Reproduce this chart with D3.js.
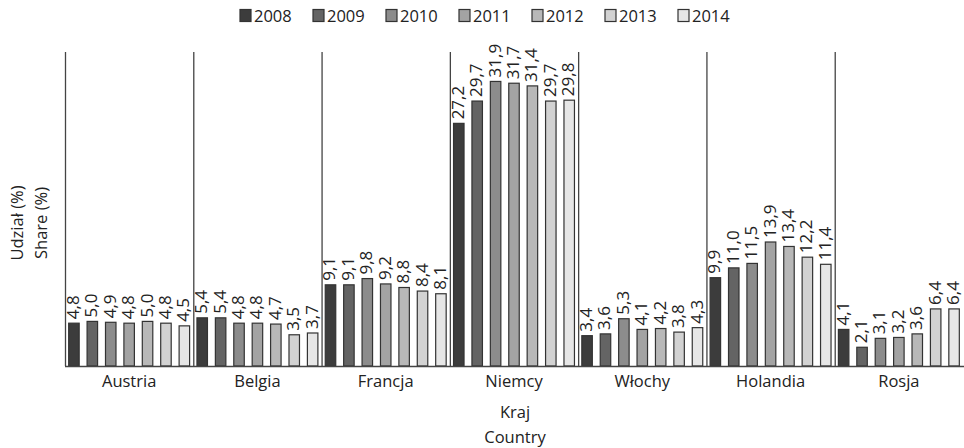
<!DOCTYPE html>
<html>
<head>
<meta charset="utf-8">
<script src="https://cdn.jsdelivr.net/npm/d3@7"></script>
<style>
  body { margin: 0; background: #fff; }
  svg { display: block; font-family: "Open Sans", "Noto Sans", sans-serif; }
</style>
</head>
<body>
<svg id="chart" width="964" height="448"></svg>
<script>
// Share of exports by country, 2008–2014 (%)
const countries = ["Austria", "Belgia", "Francja", "Niemcy", "Włochy", "Holandia", "Rosja"];
const years = ["2008", "2009", "2010", "2011", "2012", "2013", "2014"];
const v2008 = [4.8, 5.4, 9.1, 27.2, 3.4, 9.9, 4.1];
const v2009 = [5.0, 5.4, 9.1, 29.7, 3.6, 11.0, 2.1];
const v2010 = [4.9, 4.8, 9.8, 31.9, 5.3, 11.5, 3.1];
const v2011 = [4.8, 4.8, 9.2, 31.7, 4.1, 13.9, 3.2];
const v2012 = [5.0, 4.7, 8.8, 31.4, 4.2, 13.4, 3.6];
const v2013 = [4.8, 3.5, 8.4, 29.7, 3.8, 12.2, 6.4];
const v2014 = [4.5, 3.7, 8.1, 29.8, 4.3, 11.4, 6.4];
const seriesValues = [v2008, v2009, v2010, v2011, v2012, v2013, v2014];
const yearColors = ["#3c3c3c", "#646464", "#8c8c8c", "#a3a3a3", "#b8b8b8", "#d2d2d2", "#e6e6e6"];

const svg = d3.select("#chart");
const plotLeft = 65, plotRight = 963, plotTop = 52, plotBottom = 366;

const x0 = d3.scaleBand().domain(countries).range([plotLeft, plotRight]).padding(0);
const x1 = d3.scaleBand().domain(years).range([0, x0.bandwidth()]).paddingInner(0.43).paddingOuter(0.2);
const y = d3.scaleLinear().domain([0, 35.2]).range([plotBottom, plotTop]);

const fmt = v => d3.format(".1f")(v).replace(".", ",");

// group separators
svg.append("g").selectAll("line")
  .data(countries)
  .join("line")
  .attr("x1", d => x0(d) + 0.5).attr("x2", d => x0(d) + 0.5)
  .attr("y1", plotTop).attr("y2", plotBottom)
  .attr("stroke", "#444").attr("stroke-width", 1.3);

// bars and value labels
const groups = svg.append("g").selectAll("g")
  .data(countries)
  .join("g")
  .attr("transform", d => `translate(${x0(d)},0)`);

groups.each(function(country, ci) {
  const g = d3.select(this);
  const rows = years.map((yr, si) => ({ yr, v: seriesValues[si][ci], c: yearColors[si] }));
  g.selectAll("rect")
    .data(rows)
    .join("rect")
    .attr("x", d => x1(d.yr))
    .attr("y", d => y(d.v))
    .attr("width", x1.bandwidth())
    .attr("height", d => plotBottom - y(d.v))
    .attr("fill", d => d.c)
    .attr("stroke", "#333")
    .attr("stroke-width", 1.2);
  g.selectAll("text")
    .data(rows)
    .join("text")
    .attr("transform", d => `translate(${x1(d.yr) + x1.bandwidth() / 2 + 5},${y(d.v) - 4}) rotate(-90)`)
    .attr("font-size", 17)
    .attr("fill", "#222")
    .text(d => fmt(d.v));
});

// x axis
const xAxis = d3.axisBottom(x0).tickSize(0).tickPadding(9);
const xg = svg.append("g").attr("transform", `translate(0,${plotBottom})`).call(xAxis);
xg.select(".domain").attr("stroke", "#444").attr("stroke-width", 1.3).attr("d", `M${plotLeft},0.5H964`);
xg.selectAll("text").attr("font-size", 16.5).attr("fill", "#222").attr("font-family", "Open Sans, sans-serif");

// axis titles
svg.append("text").attr("x", 515).attr("y", 418).attr("text-anchor", "middle")
  .attr("font-size", 16.5).attr("fill", "#222").text("Kraj");
svg.append("text").attr("x", 515).attr("y", 443).attr("text-anchor", "middle")
  .attr("font-size", 16.5).attr("fill", "#222").text("Country");
svg.append("text").attr("transform", "translate(23,223) rotate(-90)").attr("text-anchor", "middle")
  .attr("font-size", 16.5).attr("fill", "#222").text("Udział (%)");
svg.append("text").attr("transform", "translate(47,223) rotate(-90)").attr("text-anchor", "middle")
  .attr("font-size", 16.5).attr("fill", "#222").text("Share (%)");

// legend
const legend = svg.append("g").selectAll("g")
  .data(years)
  .join("g")
  .attr("transform", (d, i) => `translate(${240 + i * 73},9)`);
legend.append("rect").attr("width", 11).attr("height", 12).attr("y", 0.5)
  .attr("fill", (d, i) => yearColors[i]).attr("stroke", "#333").attr("stroke-width", 1.2);
legend.append("text").attr("x", 14).attr("y", 12.5).attr("font-size", 16.5).attr("fill", "#222").text(d => d);
</script>
</body>
</html>
